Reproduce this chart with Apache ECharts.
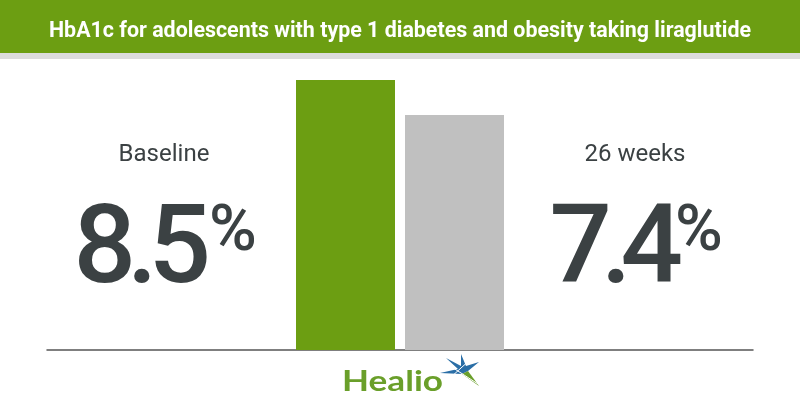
<!DOCTYPE html>
<html>
<head>
<meta charset="utf-8">
<script src="https://cdn.jsdelivr.net/npm/echarts@6/dist/echarts.min.js"></script>
<style>
html,body{margin:0;padding:0;background:#fff;}
#chart{width:800px;height:420px;}
</style>
</head>
<body>
<div id="chart"></div>
<script>
const titleText = 'HbA1c for adolescents with type 1 diabetes and obesity taking liraglutide';
const categories = ['Baseline', '26 weeks'];
const values = [8.5, 7.4];
const unit = '%';
const barColors = ['#6c9e12', '#c0c0c0'];
const brand = 'Healio';

const GREEN = '#6c9e12';
const TEXT = '#3b4143';

function measure(text, font) {
  const c = document.createElement('canvas').getContext('2d');
  c.font = font;
  return c.measureText(text).width;
}

const chart = echarts.init(document.getElementById('chart'), null, {renderer: 'canvas'});

const titleFont = 'bold 22px Roboto';
const titleScale = 702 / measure(titleText, titleFont);
const brandFont = 'bold 28px Lato';
const brandScale = 101 / measure(brand, brandFont);

const labelX = [164, 635];
const numRight = [211, 683];
const pctLeft = [209, 675];
const numFont = '500 110px Roboto';
const tracking = [-9, -11];

const graphics = [
  {type: 'rect', shape: {x: 0, y: 0, width: 800, height: 53}, style: {fill: GREEN}, silent: true},
  {type: 'rect', shape: {x: 0, y: 53, width: 800, height: 6}, style: {fill: '#dcdcdc'}, silent: true},
  {type: 'text', x: 400, y: 31, scaleX: titleScale, originX: 0, originY: 0,
   style: {text: titleText, font: titleFont, fill: '#ffffff', align: 'center', verticalAlign: 'middle'}},
  {type: 'text', x: 342, y: 382, scaleX: brandScale, originX: 0, originY: 0,
   style: {text: brand, font: brandFont, fill: '#6a9f2a', align: 'left', verticalAlign: 'middle'}},
  // star logo
  {type: 'polygon', shape: {points: [[446,358],[461,366],[461,354],[466,366],[479,362],[468,371],[462,374],[440,373],[458,369]]}, style: {fill: '#2a6ea6'}},
  {type: 'polygon', shape: {points: [[468,371],[479,386],[462,374]]}, style: {fill: '#6a9f2a'}},
  {type: 'line', shape: {x1: 444, y1: 362, x2: 478, y2: 384}, style: {stroke: '#ffffff', lineWidth: 1}},
  {type: 'line', shape: {x1: 450, y1: 378, x2: 472, y2: 358}, style: {stroke: '#ffffff', lineWidth: 1}}
];

categories.forEach((c, i) => {
  graphics.push({type: 'text', x: labelX[i], y: 155,
    style: {text: c, font: '24px Roboto', fill: TEXT, align: 'center', verticalAlign: 'middle'}});
  const s = values[i].toFixed(1);
  let x = numRight[i];
  for (let k = s.length - 1; k >= 0; k--) {
    graphics.push({type: 'text', x: x, y: 254,
      style: {text: s[k], font: numFont, fill: TEXT, align: 'right', verticalAlign: 'middle'}});
    x -= measure(s[k], numFont) + tracking[i];
  }
  graphics.push({type: 'text', x: pctLeft[i], y: 234,
    style: {text: unit, font: '500 65px Roboto', fill: TEXT, align: 'left', verticalAlign: 'middle'}});
});

const option = {
  animation: false,
  grid: [
    {left: 291, right: 291, top: 80, bottom: 70},
    {left: 47, right: 47, top: 80, bottom: 70}
  ],
  xAxis: [
    {type: 'category', gridIndex: 0, data: categories, axisLine: {show: false}, axisTick: {show: false}, axisLabel: {show: false}},
    {type: 'value', gridIndex: 1, min: 0, max: 1, axisLine: {show: true, lineStyle: {color: '#555555', width: 1.5}},
     axisTick: {show: false}, axisLabel: {show: false}, splitLine: {show: false}}
  ],
  yAxis: [
    {type: 'value', gridIndex: 0, min: 0, max: 'dataMax', show: false},
    {type: 'value', gridIndex: 1, min: 0, max: 1, show: false}
  ],
  series: [{
    type: 'bar', xAxisIndex: 0, yAxisIndex: 0, barWidth: 99, silent: true,
    data: values.map((v, i) => ({value: v, itemStyle: {color: barColors[i]}}))
  }],
  graphic: graphics
};
chart.setOption(option);
</script>
</body>
</html>
